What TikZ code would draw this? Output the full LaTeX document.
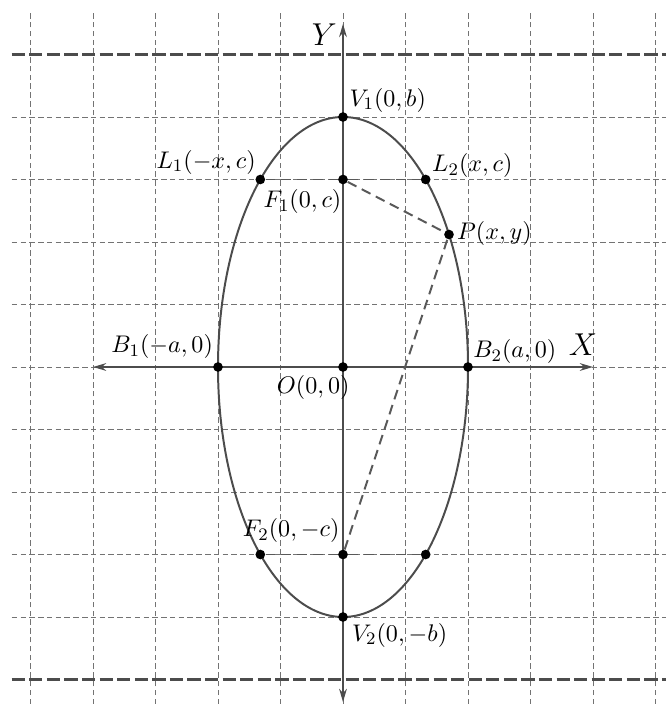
\documentclass[tikz,border=0pt]{standalone}
\usetikzlibrary{arrows.meta}
\begin{document}
\begin{tikzpicture}[
  gridline/.style={draw=black!55, line width=0.35pt, dash pattern=on 2.5pt off 1.5pt},
  directrix/.style={draw=black!70, line width=1pt, dash pattern=on 6pt off 2pt},
  chord/.style={draw=black!65, line width=0.9pt, dash pattern=on 4.5pt off 2.7pt},
  axis/.style={draw=black!70, line width=0.9pt, {Stealth[length=6pt,width=3.5pt]}-{Stealth[length=6pt,width=3.5pt]}},
  curve/.style={draw=black!70, line width=0.9pt},
  pt/.style={circle, fill=black, inner sep=0pt, minimum size=4.4pt},
  lbl/.style={inner sep=0pt, font=\fontsize{11}{13}\selectfont},
  axlbl/.style={inner sep=0pt, font=\Large}
]
\useasboundingbox (-5.488,-5.392) rectangle (5.168,5.872);
% grid
\foreach \x in {-5,...,5} \draw[gridline] (\x,-5.392) -- (\x,5.71);
\foreach \y in {-4,...,4} \draw[gridline] (-5.3,\y) -- (5.168,\y);
% directrices
\draw[directrix] (-5.3,5) -- (5.168,5);
\draw[directrix] (-5.3,-5) -- (5.168,-5);
% ellipse
\draw[curve] (0,0) ellipse [x radius=2, y radius=4];
% axes
\coordinate (xl) at (-4,0);
\coordinate (xr) at (4,0);
\coordinate (yb) at (0,-5.36);
\coordinate (yt) at (0,5.49);
\draw[axis] (xl) -- (xr);
\draw[axis] (yb) -- (yt);
% points
\node[pt] (V1) at (0,4) {};
\node[pt] (V2) at (0,-4) {};
\node[pt] (B1) at (-2,0) {};
\node[pt] (B2) at (2,0) {};
\node[pt] (O) at (0,0) {};
\node[pt] (F1) at (0,3) {};
\node[pt] (F2) at (0,-3) {};
\node[pt] (L1) at (-1.3229,3) {};
\node[pt] (L2) at (1.3229,3) {};
\node[pt] (L3) at (-1.3229,-3) {};
\node[pt] (L4) at (1.3229,-3) {};
\node[pt] (P) at (32:2 and 4) {};
% chords
\draw[chord] (L1) -- (F1);
\draw[chord] (F1) -- (L2);
\draw[chord] (L3) -- (F2);
\draw[chord] (F2) -- (L4);
\draw[chord] (F1) -- (P);
\draw[chord] (F2) -- (P);
% labels
\node[lbl, anchor=west] (tV1) at (0.10,4.27) {$V_1(0,b)$};
\node[lbl, anchor=east] (tL1) at (-1.39,3.28) {$L_1(-x,c)$};
\node[lbl, anchor=west] (tL2) at (1.42,3.22) {$L_2(x,c)$};
\node[lbl, anchor=east] (tF1) at (-0.02,2.645) {$F_1(0,c)$};
\node[lbl, anchor=west] (tP) at (1.82,2.13) {$P(x,y)$};
\node[lbl, anchor=east] (tB1) at (-2.075,0.325) {$B_1(-a,0)$};
\node[lbl, anchor=west] (tB2) at (2.08,0.245) {$B_2(a,0)$};
\node[lbl, anchor=east] (tO) at (0.11,-0.32) {$O(0,0)$};
\node[lbl, anchor=east] (tF2) at (-0.05,-2.62) {$F_2(0,-c)$};
\node[lbl, anchor=west] (tV2) at (0.14,-4.29) {$V_2(0,-b)$};
\node[axlbl] (tX) at (3.84,0.352) {$X$};
\node[axlbl] (tY) at (-0.30,5.31) {$Y$};
\end{tikzpicture}
\end{document}
